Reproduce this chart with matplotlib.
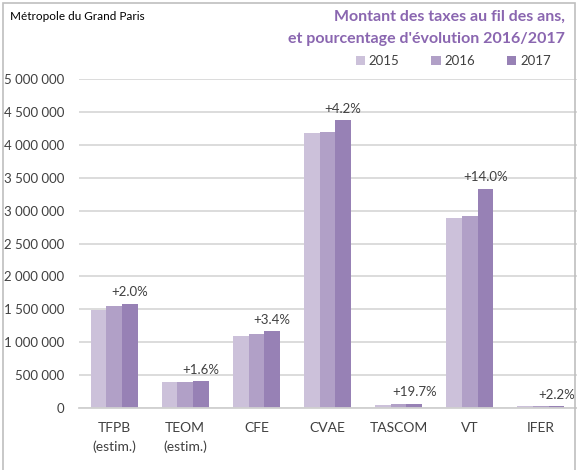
import numpy as np
import matplotlib.pyplot as plt
from matplotlib.patches import Rectangle

categories = ["TFPB\n(estim.)", "TEOM\n(estim.)", "CFE", "CVAE", "TASCOM", "VT", "IFER"]
years = ["2015", "2016", "2017"]
v2015 = [1490000, 395000, 1100000, 4175000, 45000, 2888000, 26000]
v2016 = [1550000, 400000, 1125000, 4195000, 56000, 2923000, 27000]
v2017 = [1580000, 406000, 1163000, 4370000, 67000, 3332000, 27600]
evolution = ["+2.0%", "+1.6%", "+3.4%", "+4.2%", "+19.7%", "+14.0%", "+2.2%"]
yticks = [0, 500000, 1000000, 1500000, 2000000, 2500000, 3000000, 3500000, 4000000, 4500000, 5000000]

colors = ["#ccc1da", "#b1a0c7", "#9781b5"]
purple = "#8a66b0"
txt = "#404040"

plt.rcParams['font.family'] = ['Lato', 'DejaVu Sans']

W, H = 577, 470
fig = plt.figure(figsize=(W / 100, H / 100), dpi=100)
ax = fig.add_axes([78.5 / W, (H - 408) / H, 498 / W, 329 / H])

x = np.arange(len(categories))
bw = 0.22
for i, (vals, yr) in enumerate(zip([v2015, v2016, v2017], years)):
    ax.bar(x + (i - 1) * bw, vals, bw, color=colors[i], label=yr, zorder=3)

for xi, v, lab in zip(x, v2017, evolution):
    ax.annotate(lab, (xi + bw, v), xytext=(0, 4), textcoords="offset points",
                ha="center", va="bottom", fontsize=9.5, color=txt)

ax.set_xlim(-0.5, len(categories) - 0.5)
ax.set_ylim(0, 5000000)
ax.set_yticks(yticks)
ax.set_yticklabels([f"{t:,}".replace(",", " ") for t in yticks])
ax.set_xticks(x)
ax.set_xticklabels(categories, linespacing=1.65)
ax.tick_params(axis="both", length=0, labelsize=9.5, labelcolor=txt)
ax.tick_params(axis="y", pad=10)
ax.tick_params(axis="x", pad=10, labelsize=10)
ax.grid(axis="y", color="#d9d9d9", linewidth=1.3, zorder=0)
for s in ["top", "right", "left"]:
    ax.spines[s].set_visible(False)
ax.spines["bottom"].set_color("#d0d0d0")
ax.spines["bottom"].set_linewidth(1.3)
ax.spines["bottom"].set_zorder(4)

fig.text(10 / W, 1 - 17 / H, "Métropole du Grand Paris", fontsize=8.5, color="black",
         ha="left", va="center")
fig.text(565 / W, 1 - 17 / H, "Montant des taxes au fil des ans,", fontsize=11.5,
         fontweight="bold", color=purple, ha="right", va="center")
fig.text(565 / W, 1 - 39 / H, "et pourcentage d'évolution 2016/2017", fontsize=11.5,
         fontweight="bold", color=purple, ha="right", va="center")

leg = fig.legend(loc="center right", bbox_to_anchor=(556 / W, 1 - 61 / H), ncol=3,
                 frameon=False, fontsize=9.5, handlelength=0.7, handleheight=0.7,
                 handletextpad=0.3, columnspacing=2.4, borderaxespad=0)
for t in leg.get_texts():
    t.set_color(txt)

fig.patches.append(Rectangle((3 / W, -0.1), 572 / W, 1.1 - 3 / H, transform=fig.transFigure,
                             fill=False, edgecolor="#bfbfbf", linewidth=1.2))

fig.savefig("out.png", dpi=100)
